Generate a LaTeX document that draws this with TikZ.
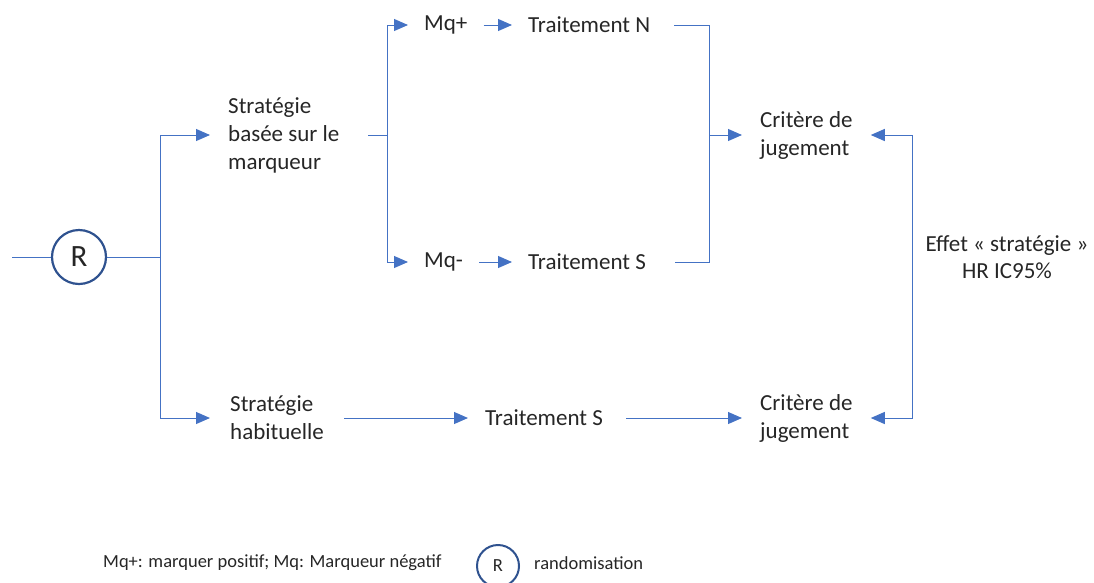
\documentclass[tikz,border=0pt]{standalone}
\usepackage{fontspec}
\setmainfont{Carlito}
\usepackage{tikz}
\usetikzlibrary{arrows.meta,positioning}
\definecolor{bleuLien}{RGB}{68,114,196}
\definecolor{bleuCercle}{RGB}{47,82,143}
\definecolor{texte}{RGB}{38,38,38}

\begin{document}
\begin{tikzpicture}[x=1pt,y=-1pt,
		lien/.style={draw=bleuLien, line width=1pt},
		fleche/.style={lien, -{Triangle[length=14pt,width=12pt]}},
		boite/.style={anchor=west, inner xsep=16pt, inner ysep=0pt, align=flush left, text=texte, font=\fontsize{23}{28}\selectfont},
		rando/.style={circle, draw=bleuCercle, line width=2.2pt, inner sep=0pt, text=texte}]
	\useasboundingbox (0,0) rectangle (1094,582);
	% randomisation
	\coordinate (entree) at (12,257);
	\node[rando, minimum size=54pt, font=\fontsize{31}{31}\selectfont] (R) at (79,257) {R};
	\coordinate (j1) at (160,257);
	% strategies
	\node[boite, inner xsep=18pt, text width=122pt] (strat) at (210,135) {Stratégie\\basée sur le\\marqueur};
	\node[boite, inner xsep=20pt] (habit) at (210,418) {Stratégie\\habituelle};
	% marqueur
	\coordinate (j2) at (387,135);
	\node[boite] (mqp) at (408,25) {Mq+};
	\node[boite] (mqm) at (408,262) {Mq-};
	\node[boite] (trN) at (512,25) {Traitement N};
	\node[boite] (trS) at (512,262) {Traitement S};
	\node[boite, inner xsep=17pt] (trS2) at (468,418) {Traitement S};
	% criteres
	\coordinate (j3) at (709,135);
	\node[boite, inner xsep=18pt] (crit) at (742,135) {Critère de\\jugement};
	\node[boite, inner xsep=18pt] (crit2) at (742,418) {Critère de\\jugement};
	\coordinate (j4) at (912,257);
	\node[align=center, text=texte, font=\fontsize{23}{27}\selectfont] (effet) at (1007,257) {Effet « stratégie »\\HR IC95\%};
	% liens
	\draw[lien] (entree) -- (R);
	\draw[lien] (R) -- (j1);
	\draw[fleche] (j1) |- (strat.west);
	\draw[fleche] (j1) |- (habit.west);
	\draw[lien] (strat.east) -- (j2);
	\draw[fleche] (j2) |- (mqp.west);
	\draw[fleche] (j2) |- (mqm.west);
	\draw[fleche] (mqp) -- (trN);
	\draw[fleche] (mqm) -- (trS);
	\draw[lien, shorten <=8pt] (trN.east) -| (j3);
	\draw[lien, shorten <=13pt] (trS.east) -| (j3);
	\draw[fleche] (j3) -- (crit.west);
	\draw[fleche] (habit) -- (trS2);
	\draw[fleche, shorten <=6pt] (trS2) -- (crit2);
	\draw[fleche] (j4) |- (crit.east);
	\draw[fleche] (j4) |- (crit2.east);
	% legende
	\node[anchor=west, inner sep=0pt, text=texte, font=\fontsize{18.5}{22}\selectfont] (legende) at (103,563) {Mq+: marquer positif; Mq: Marqueur négatif};
	\node[rando, minimum size=42pt, line width=2pt, font=\fontsize{18.5}{22}\selectfont] (legR) at (498,566) {R};
	\node[anchor=west, inner sep=0pt, text=texte, font=\fontsize{18.5}{22}\selectfont] (rand) at (534,563) {randomisation};
\end{tikzpicture}
\end{document}
